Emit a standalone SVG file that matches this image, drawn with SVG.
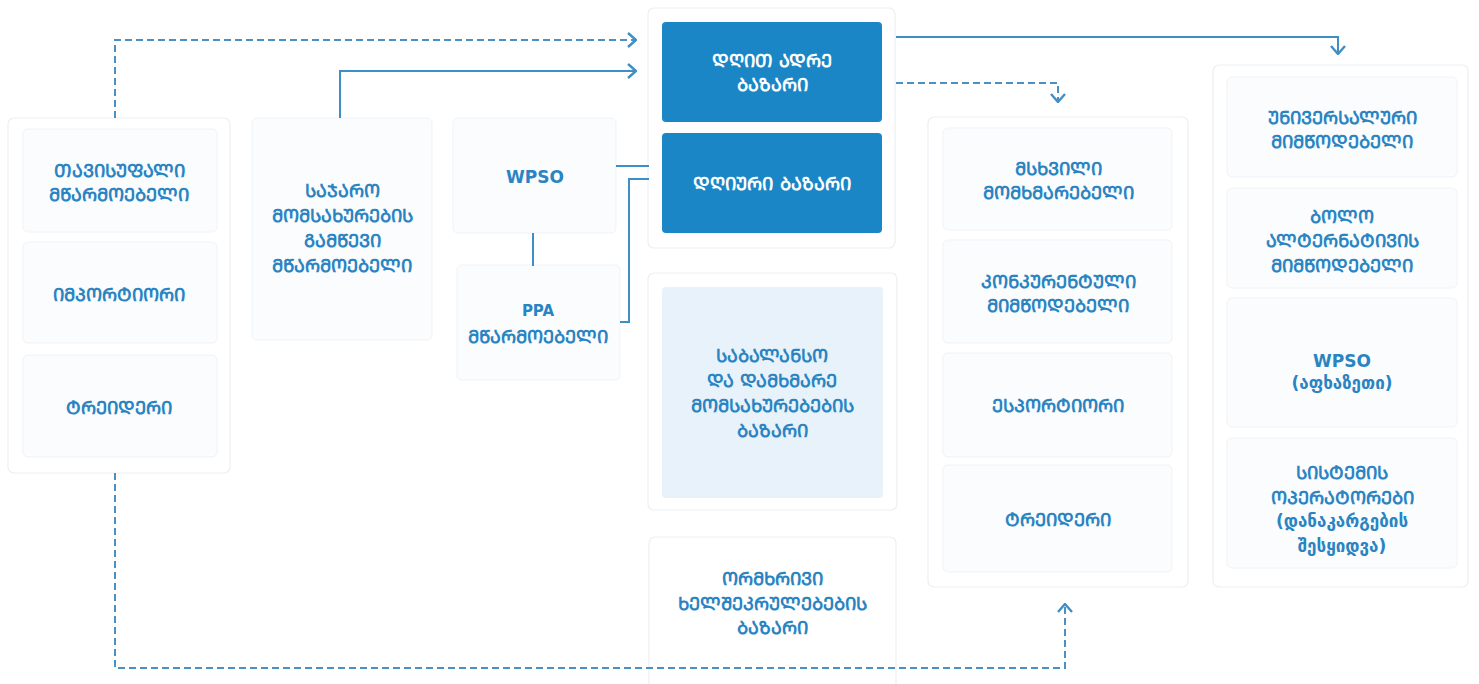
<svg xmlns="http://www.w3.org/2000/svg" width="1479" height="684" viewBox="0 0 1479 684">
<defs>
<style>
.bg{fill:#ffffff}
.cont{fill:#ffffff;stroke:#eceff3;stroke-width:1.2}
.card{fill:#fafcfe;stroke:#f0f3f7;stroke-width:1}
.dark{fill:#1a86c6}
.light{fill:#e8f2fb}
.t{font-family:"DejaVu Sans","Noto Sans",sans-serif;font-weight:bold;font-size:18px;fill:#2a84c2;text-anchor:middle}
.tw{fill:#ffffff}
.sm{font-size:15px}
.md{font-size:17px}
.ln{fill:none;stroke:#3e8fc6;stroke-width:2}
.dl{fill:none;stroke:#4a90c4;stroke-width:2;stroke-dasharray:7 4}
</style>
<marker id="chev" viewBox="0 0 10 16" refX="9" refY="8" markerWidth="10" markerHeight="16" markerUnits="userSpaceOnUse" orient="auto">
<path d="M1,1 L9,8 L1,15" fill="none" stroke="#3e8fc6" stroke-width="2.4"/>
</marker>
</defs>
<rect class="bg" x="0" y="0" width="1479" height="684"/>

<g id="group-left">
<rect class="cont" x="8" y="118" width="222" height="355" rx="6"/>
</g>
<g id="n-free-producer">
<rect class="card" x="23" y="129" width="194" height="103" rx="5"/>
<text class="t" x="119" y="177">ᲗᲐᲕᲘᲡᲣᲤᲐᲚᲘ</text>
<text class="t" x="119" y="201">ᲛᲬᲐᲠᲛᲝᲔᲑᲔᲚᲘ</text>
</g>
<g id="n-importer">
<rect class="card" x="23" y="242" width="194" height="101" rx="5"/>
<text class="t" x="119" y="301">ᲘᲛᲞᲝᲠᲢᲘᲝᲠᲘ</text>
</g>
<g id="n-trader-left">
<rect class="card" x="23" y="355" width="194" height="102" rx="5"/>
<text class="t" x="119" y="414">ᲢᲠᲔᲘᲓᲔᲠᲘ</text>
</g>

<g id="n-public-service-producer">
<rect class="card" x="252" y="118" width="180" height="222" rx="5"/>
<text class="t" x="342" y="197">ᲡᲐᲯᲐᲠᲝ</text>
<text class="t" x="342" y="222">ᲛᲝᲛᲡᲐᲮᲣᲠᲔᲑᲘᲡ</text>
<text class="t" x="342" y="247">ᲒᲐᲛᲬᲔᲕᲘ</text>
<text class="t" x="342" y="272">ᲛᲬᲐᲠᲛᲝᲔᲑᲔᲚᲘ</text>
</g>

<g id="n-wpso">
<rect class="card" x="453" y="118" width="163" height="115" rx="5"/>
<text class="t md" x="535" y="183">WPSO</text>
</g>
<g id="n-ppa">
<rect class="card" x="457" y="265" width="163" height="115" rx="5"/>
<text class="t sm" x="538" y="316">PPA</text>
<text class="t" x="538" y="343">ᲛᲬᲐᲠᲛᲝᲔᲑᲔᲚᲘ</text>
</g>

<g id="group-markets">
<rect class="cont" x="648" y="8" width="247" height="240" rx="6"/>
</g>
<g id="n-day-ahead">
<rect class="dark" x="662" y="22" width="220" height="100" rx="4"/>
<text class="t tw" x="772" y="67">ᲓᲦᲘᲗ ᲐᲓᲠᲔ</text>
<text class="t tw" x="772" y="91">ᲑᲐᲖᲐᲠᲘ</text>
</g>
<g id="n-intraday">
<rect class="dark" x="662" y="133" width="220" height="100" rx="4"/>
<text class="t tw" x="772" y="190">ᲓᲦᲘᲣᲠᲘ ᲑᲐᲖᲐᲠᲘ</text>
</g>

<g id="n-balancing">
<rect class="cont" x="648" y="273" width="249" height="237" rx="6"/>
<rect class="light" x="662" y="287" width="221" height="211" rx="4"/>
<text class="t" x="772" y="362">ᲡᲐᲑᲐᲚᲐᲜᲡᲝ</text>
<text class="t" x="772" y="387">ᲓᲐ ᲓᲐᲛᲮᲛᲐᲠᲔ</text>
<text class="t" x="772" y="412">ᲛᲝᲛᲡᲐᲮᲣᲠᲔᲑᲔᲑᲘᲡ</text>
<text class="t" x="772" y="437">ᲑᲐᲖᲐᲠᲘ</text>
</g>

<g id="n-bilateral">
<rect class="cont" x="649" y="537" width="247" height="160" rx="6"/>
<text class="t" x="772" y="585">ᲝᲠᲛᲮᲠᲘᲕᲘ</text>
<text class="t" x="772" y="610">ᲮᲔᲚᲨᲔᲙᲠᲣᲚᲔᲑᲔᲑᲘᲡ</text>
<text class="t" x="772" y="634">ᲑᲐᲖᲐᲠᲘ</text>
</g>

<g id="group-buyers">
<rect class="cont" x="928" y="117" width="260" height="470" rx="6"/>
</g>
<g id="n-large-consumer">
<rect class="card" x="943" y="128" width="229" height="102" rx="5"/>
<text class="t" x="1058" y="175">ᲛᲡᲮᲕᲘᲚᲘ</text>
<text class="t" x="1058" y="199">ᲛᲝᲛᲮᲛᲐᲠᲔᲑᲔᲚᲘ</text>
</g>
<g id="n-competitive-supplier">
<rect class="card" x="943" y="240" width="229" height="103" rx="5"/>
<text class="t" x="1058" y="288">ᲙᲝᲜᲙᲣᲠᲔᲜᲢᲣᲚᲘ</text>
<text class="t" x="1058" y="312">ᲛᲘᲛᲬᲝᲓᲔᲑᲔᲚᲘ</text>
</g>
<g id="n-exporter">
<rect class="card" x="943" y="353" width="229" height="104" rx="5"/>
<text class="t" x="1058" y="412">ᲔᲡᲞᲝᲠᲢᲘᲝᲠᲘ</text>
</g>
<g id="n-trader-right">
<rect class="card" x="943" y="465" width="229" height="107" rx="5"/>
<text class="t" x="1058" y="526">ᲢᲠᲔᲘᲓᲔᲠᲘ</text>
</g>

<g id="group-suppliers">
<rect class="cont" x="1213" y="65" width="255" height="522" rx="6"/>
</g>
<g id="n-universal-supplier">
<rect class="card" x="1227" y="77" width="230" height="100" rx="5"/>
<text class="t" x="1342" y="124">ᲣᲜᲘᲕᲔᲠᲡᲐᲚᲣᲠᲘ</text>
<text class="t" x="1342" y="148">ᲛᲘᲛᲬᲝᲓᲔᲑᲔᲚᲘ</text>
</g>
<g id="n-last-resort-supplier">
<rect class="card" x="1227" y="188" width="230" height="100" rx="5"/>
<text class="t" x="1342" y="223">ᲑᲝᲚᲝ</text>
<text class="t" x="1342" y="247">ᲐᲚᲢᲔᲠᲜᲐᲢᲘᲕᲘᲡ</text>
<text class="t" x="1342" y="272">ᲛᲘᲛᲬᲝᲓᲔᲑᲔᲚᲘ</text>
</g>
<g id="n-wpso-abkhazia">
<rect class="card" x="1227" y="298" width="230" height="129" rx="5"/>
<text class="t md" x="1342" y="367">WPSO</text>
<text class="t md" x="1342" y="389">(აფხაზეთი)</text>
</g>
<g id="n-system-operators">
<rect class="card" x="1227" y="438" width="230" height="130" rx="5"/>
<text class="t" x="1342" y="479">ᲡᲘᲡᲢᲔᲛᲘᲡ</text>
<text class="t" x="1342" y="504">ᲝᲞᲔᲠᲐᲢᲝᲠᲔᲑᲘ</text>
<text class="t md" x="1342" y="527">(დანაკარგების</text>
<text class="t md" x="1342" y="552">შესყიდვა)</text>
</g>

<g id="connectors">
<path class="dl" d="M115,118 V40 H636" marker-end="url(#chev)"/>
<path class="ln" d="M340,118 V71 H636" marker-end="url(#chev)"/>
<path class="ln" d="M616,166 H649"/>
<path class="ln" d="M533,233 V266"/>
<path class="ln" d="M620,322 H629 V179 H649"/>
<path class="ln" d="M896,37 H1338 V54" marker-end="url(#chev)"/>
<path class="dl" d="M896,83 H1058 V102" marker-end="url(#chev)"/>
<path class="dl" d="M115,473 V668 H1065 V604" marker-end="url(#chev)"/>
</g>
</svg>
